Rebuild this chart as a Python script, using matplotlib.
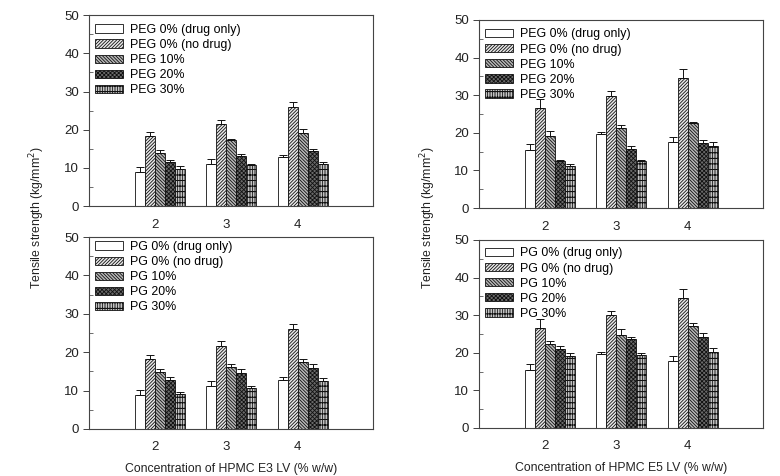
import matplotlib
matplotlib.use("Agg")
import matplotlib.pyplot as plt
import numpy as np

plt.rcParams['font.family'] = ['Liberation Sans', 'DejaVu Sans']
plt.rcParams['hatch.linewidth'] = 0.6

conc = [2, 3, 4]

# PEG, HPMC E3 LV
peg_e3 = [[8.9, 11.1, 12.8], [18.3, 21.5, 25.9], [13.9, 17.2, 19.1], [11.6, 13.0, 14.5], [9.8, 10.7, 11.0]]
peg_e3_err = [[1.4, 1.2, 0.7], [1.0, 1.1, 1.5], [0.7, 0.3, 1.1], [0.4, 0.7, 0.5], [0.6, 0.2, 0.6]]
# PEG, HPMC E5 LV
peg_e5 = [[15.5, 19.6, 17.5], [26.7, 29.9, 34.5], [19.2, 21.2, 22.7], [12.4, 15.7, 17.4], [11.2, 12.6, 16.6]]
peg_e5_err = [[1.6, 0.5, 1.5], [2.2, 1.1, 2.4], [1.2, 0.8, 0.2], [0.4, 0.7, 0.6], [0.6, 0.2, 0.9]]
# PG, HPMC E3 LV
pg_e3 = [[8.7, 11.3, 12.8], [18.3, 21.5, 26.0], [14.8, 16.1, 17.4], [12.7, 14.6, 15.9], [9.2, 10.7, 12.6]]
pg_e3_err = [[1.5, 1.1, 0.7], [0.9, 1.4, 1.4], [0.8, 0.7, 0.7], [0.8, 1.1, 1.1], [0.3, 0.4, 0.7]]
# PG, HPMC E5 LV
pg_e5 = [[15.3, 19.6, 17.7], [26.7, 29.9, 34.5], [22.4, 24.8, 27.0], [21.0, 23.7, 24.3], [19.0, 19.5, 20.2]]
pg_e5_err = [[1.8, 0.6, 1.5], [2.2, 1.1, 2.4], [0.8, 1.5, 0.8], [0.7, 0.6, 0.9], [0.9, 0.4, 1.0]]

peg_labels = ["PEG 0% (drug only)", "PEG 0% (no drug)", "PEG 10%", "PEG 20%", "PEG 30%"]
pg_labels = ["PG 0% (drug only)", "PG 0% (no drug)", "PG 10%", "PG 20%", "PG 30%"]

hatches = ["", "//////////", "\\\\\\\\\\\\\\\\\\\\", "xxxxxxxx", "|||||||+++"]
faces = ["white", "#e8e8e8", "#b8b8b8", "#6a6a6a", "white"]

fig = plt.figure(figsize=(7.8, 4.76), dpi=100)

# axes rect, data, errors, legend labels, x label, legend top anchor
panels = [
    ([0.114, 0.567, 0.364, 0.401], peg_e3, peg_e3_err, peg_labels, None, 0.955),
    ([0.614, 0.563, 0.364, 0.395], peg_e5, peg_e5_err, peg_labels, None, 0.955),
    ([0.114, 0.099, 0.364, 0.403], pg_e3, pg_e3_err, pg_labels, "Concentration of HPMC E3 LV (% w/w)", 0.98),
    ([0.614, 0.101, 0.364, 0.395], pg_e5, pg_e5_err, pg_labels, "Concentration of HPMC E5 LV (% w/w)", 0.96),
]

w = 0.14
x = np.array(conc, dtype=float)
for rect, vals, errs, labels, xlabel, ly in panels:
    ax = fig.add_axes(rect)
    for i in range(5):
        pos = x + (i - 1.5) * w
        ax.bar(pos, vals[i], w, color=faces[i], edgecolor="#111", linewidth=0.6,
               hatch=hatches[i], label=labels[i],
               yerr=[np.zeros(3), errs[i]], capsize=3,
               error_kw=dict(elinewidth=0.7, capthick=0.7, ecolor="#111"))
    ax.set_xlim(1.08, 5.05)
    ax.set_ylim(0, 50)
    ax.set_xticks(conc)
    ax.set_yticks(range(0, 51, 10))
    ax.set_yticks(range(5, 50, 10), minor=True)
    ax.tick_params(axis="x", length=0, pad=9, labelsize=9.5, colors="#222")
    ax.tick_params(axis="y", which="major", direction="out", length=4, width=0.6,
                   labelsize=9.5, pad=3, colors="#222")
    ax.tick_params(axis="y", which="minor", direction="in", length=3, width=0.6, colors="#555")
    for s in ax.spines.values():
        s.set_color("#444")
        s.set_linewidth(0.8)
    ax.legend(loc="upper left", bbox_to_anchor=(0.02, ly), borderaxespad=0,
              frameon=False, fontsize=8.9, handlelength=2.3, handleheight=0.65,
              handletextpad=0.55, labelspacing=0.25, borderpad=0)
    if xlabel:
        ax.set_xlabel(xlabel, fontsize=8.8, color="#222", labelpad=7)

fig.text(37 / 780, 1 - 218 / 476, "Tensile strength (kg/mm$^2$)", rotation=90,
         ha="center", va="center", fontsize=8.8, color="#222")
fig.text(428 / 780, 1 - 218 / 476, "Tensile strength (kg/mm$^2$)", rotation=90,
         ha="center", va="center", fontsize=8.8, color="#222")

fig.savefig("out.png", dpi=100)
